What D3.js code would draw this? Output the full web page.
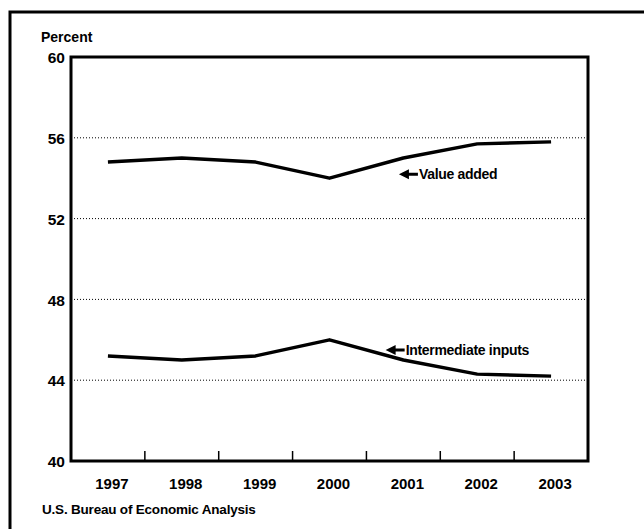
<!DOCTYPE html>
<html>
<head>
<meta charset="utf-8">
<script src="https://cdn.jsdelivr.net/npm/d3@7"></script>
<style>
  body { margin: 0; background: #fff; }
  text { font-family: "Liberation Sans", Arial, sans-serif; font-weight: bold; fill: #000; }
</style>
</head>
<body>
<div id="chart"></div>
<script>
// data
var years = ["1997", "1998", "1999", "2000", "2001", "2002", "2003"];
var valueAdded = [54.8, 55.0, 54.8, 54.0, 55.0, 55.7, 55.8];
var intermediate = [45.2, 45.0, 45.2, 46.0, 45.0, 44.3, 44.2];
var yTicks = [40, 44, 48, 52, 56, 60];
var gridTicks = [44, 48, 52, 56];

var svg = d3.select("#chart")
    .append("svg")
    .attr("width", 644)
    .attr("height", 529),
    margin = { top: 57, right: 56, bottom: 68, left: 71 },
    width = +svg.attr("width") - margin.left - margin.right,
    height = +svg.attr("height") - margin.top - margin.bottom;

// outer frame (top and left only, rest is cut off)
svg.append("path")
    .attr("d", "M10,529 L10,12 L644,12")
    .attr("fill", "none")
    .attr("stroke", "#000")
    .attr("stroke-width", 3);

var g = svg.append("g")
    .attr("transform", "translate(" + margin.left + "," + margin.top + ")");

var x = d3.scaleBand()
    .domain(years)
    .range([0, width]);
var bw = x.bandwidth();

var y = d3.scaleLinear()
    .domain([40, 60])
    .range([height, 0]);

// dotted gridlines
g.selectAll(".grid")
    .data(gridTicks)
    .enter().append("line")
    .attr("x1", 0)
    .attr("x2", width)
    .attr("y1", function (d) { return y(d); })
    .attr("y2", function (d) { return y(d); })
    .attr("stroke", "#000")
    .attr("stroke-width", 1)
    .attr("stroke-dasharray", "1,2");

// y labels
g.selectAll(".ylab")
    .data(yTicks)
    .enter().append("text")
    .attr("x", -6)
    .attr("y", function (d) { return y(d); })
    .attr("dy", "0.4em")
    .attr("text-anchor", "end")
    .style("font-size", "15.5px")
    .text(function (d) { return d; });

g.append("text")
    .attr("x", -30)
    .attr("y", -15)
    .style("font-size", "14px")
    .text("Percent");

// x ticks between years
g.selectAll(".xtick")
    .data(years.slice(1))
    .enter().append("line")
    .attr("x1", function (d) { return x(d); })
    .attr("x2", function (d) { return x(d); })
    .attr("y1", height)
    .attr("y2", height - 10)
    .attr("stroke", "#000")
    .attr("stroke-width", 1.5);

g.selectAll(".xlab")
    .data(years)
    .enter().append("text")
    .attr("x", function (d) { return x(d) + bw / 2 + 4; })
    .attr("y", height + 28)
    .attr("text-anchor", "middle")
    .style("font-size", "15px")
    .text(function (d) { return d; });

// lines
var line = d3.line()
    .x(function (d, i) { return x(years[i]) + bw / 2; })
    .y(function (d) { return y(d); });

[valueAdded, intermediate].forEach(function (s) {
    g.append("path")
        .datum(s)
        .attr("fill", "none")
        .attr("stroke", "#000")
        .attr("stroke-width", 3.4)
        .attr("stroke-linejoin", "round")
        .attr("d", line);
});

// plot frame
g.append("rect")
    .attr("width", width)
    .attr("height", height)
    .attr("fill", "none")
    .attr("stroke", "#000")
    .attr("stroke-width", 3);

// annotations with arrows
var xc = d3.scaleLinear()
    .domain([1997, 2003])
    .range([x("1997") + bw / 2, x("2003") + bw / 2]);

var labels = [
    { name: "Value added", yr: 2000.94, v: 54.2 },
    { name: "Intermediate inputs", yr: 2000.76, v: 45.5 }
];

labels.forEach(function (d) {
    var px = xc(d.yr), py = y(d.v);
    g.append("path")
        .attr("d", "M" + px + "," + py + " l10,-5 l0,3.5 l9,0 l0,3 l-9,0 l0,3.5 z")
        .attr("fill", "#000");
    g.append("text")
        .attr("x", px + 20)
        .attr("y", py)
        .attr("dy", "0.36em")
        .style("font-size", "14px")
        .style("letter-spacing", "-0.3px")
        .text(d.name);
});

svg.append("text")
    .attr("x", 42)
    .attr("y", 514)
    .style("font-size", "13.5px")
    .style("letter-spacing", "-0.2px")
    .text("U.S. Bureau of Economic Analysis");
</script>
</body>
</html>
